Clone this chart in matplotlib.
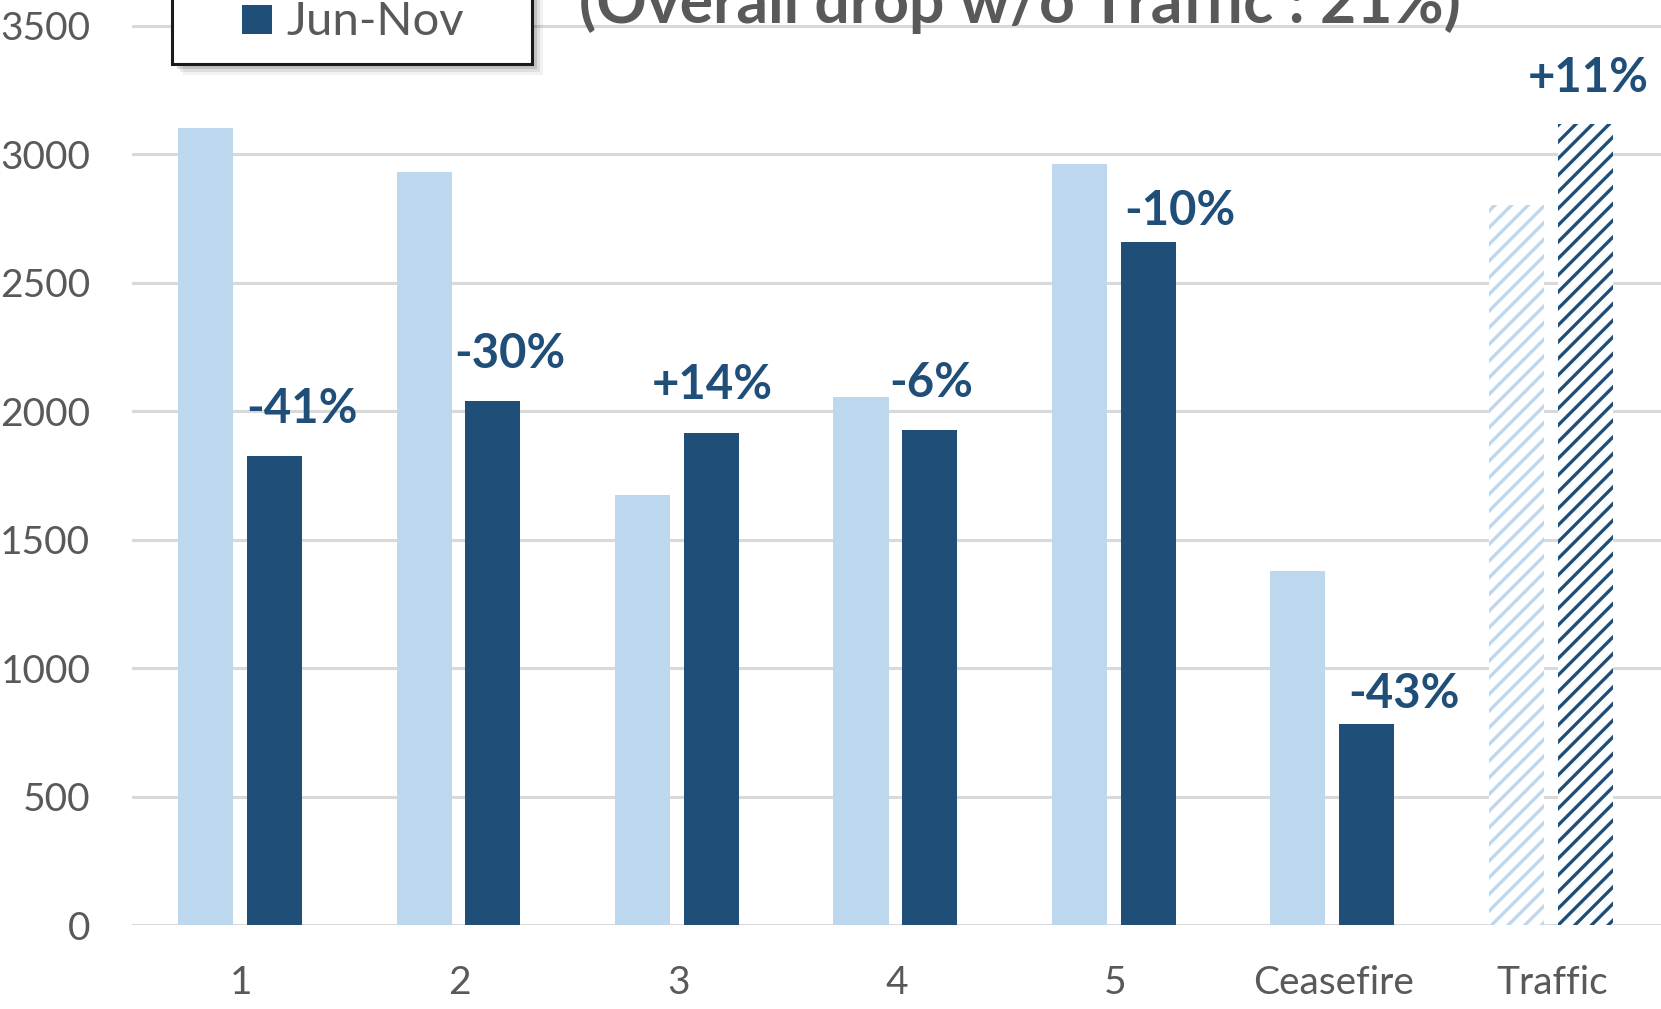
import matplotlib
matplotlib.use('Agg')
import matplotlib.pyplot as plt
from matplotlib.patches import Rectangle
import numpy as np

# ---- data ----
categories = ['1', '2', '3', '4', '5', 'Ceasefire', 'Traffic']
dec_may = [3100, 2931, 1674, 2053, 2960, 1377, 2803]
jun_nov = [1826, 2040, 1913, 1925, 2659, 783, 3116]
change_labels = ['-41%', '-30%', '+14%', '-6%', '-10%', '-43%', '+11%']
hatched = [False, False, False, False, False, False, True]
yticks = [0, 500, 1000, 1500, 2000, 2500, 3000, 3500]
legend_label = 'Jun-Nov'
title_text = '(Overall drop w/o Traffic : 21%)'

# ---- styles ----
label_dx = [26, 16, 0, 0, 31, 36, 2]   # pixel offsets of change labels
label_dy = [33, 33, 34, 33, 17, 16, 32]
LIGHT = '#BDD7EE'
DARK = '#1F4E79'
GRAY = '#595959'
GRID = '#D9D9D9'

plt.rcParams['font.family'] = ['Lato', 'DejaVu Sans']
plt.rcParams['hatch.linewidth'] = 2.4

W, H = 1661, 1009
fig = plt.figure(figsize=(W / 100, H / 100), dpi=100)
fig.patch.set_facecolor('white')
ax = fig.add_axes([132 / W, 84 / H, 1 - 132 / W, 925 / H])

x = np.arange(len(categories))
bw = 0.252
off = 0.1575
b1 = ax.bar(x - off - 0.005, dec_may, bw, color=LIGHT, linewidth=0, zorder=2)
b2 = ax.bar(x + off - 0.005, jun_nov, bw, color=DARK, linewidth=0, zorder=2)
for i, h in enumerate(hatched):
    if h:
        for p, c in ((b1.patches[i], LIGHT), (b2.patches[i], DARK)):
            p.set_facecolor('white')
            p.set_edgecolor(c)
            p.set_hatch('//')
            p.set_linewidth(0)

for i, lab in enumerate(change_labels):
    ax.annotate(lab, (x[i] + off, jun_nov[i]), xytext=(label_dx[i], label_dy[i]),
                textcoords='offset pixels', ha='center', va='baseline',
                fontsize=34, fontweight='bold', color=DARK, zorder=5)

ax.set_xlim(-0.5, len(categories) - 0.5)
ax.set_ylim(0, 3600)
ax.set_yticks(yticks)
ax.set_yticklabels([str(v) for v in yticks])
ax.set_xticks(x)
ax.set_xticklabels(categories)
ax.tick_params(axis='both', length=0, labelsize=28, colors=GRAY)
ax.tick_params(axis='y', pad=30)
ax.tick_params(axis='x', pad=29)
for s in ax.spines.values():
    s.set_visible(False)
ax.yaxis.grid(True, color=GRID, linewidth=2.2, zorder=0)
ax.set_axisbelow(True)
ax.patch.set_alpha(0)

# ---- title (partially cut off at top, as in the reference) ----
fig.text(1020 / W, 1 - 23 / H, title_text, ha='center', va='baseline',
         fontsize=45, fontweight='bold', color=GRAY, zorder=10)

# ---- legend box (partially cut off at top) ----
bx0, bx1 = 171.6, 531.8
by0 = 63.6
for o, a in [(11, 0.05), (8, 0.08), (5, 0.13)]:
    fig.patches.append(Rectangle(((bx0 + o) / W, 1 - (by0 + o) / H), (bx1 - bx0) / W, 0.2,
                                 transform=fig.transFigure, facecolor='black', alpha=a,
                                 linewidth=0, zorder=8))
fig.patches.append(Rectangle((bx0 / W, 1 - by0 / H), (bx1 - bx0) / W, 0.2,
                             transform=fig.transFigure, facecolor='white',
                             edgecolor='#1a1a1a', linewidth=2.2, zorder=9))
fig.patches.append(Rectangle((241.5 / W, 1 - 34 / H), 30.7 / W, 29 / H,
                             transform=fig.transFigure, facecolor=DARK,
                             linewidth=0, zorder=10))
fig.text(286 / W, 1 - 35 / H, legend_label, ha='left', va='baseline',
         fontsize=34, color=GRAY, zorder=10)

fig.savefig('out.png', dpi=100, facecolor='white')
